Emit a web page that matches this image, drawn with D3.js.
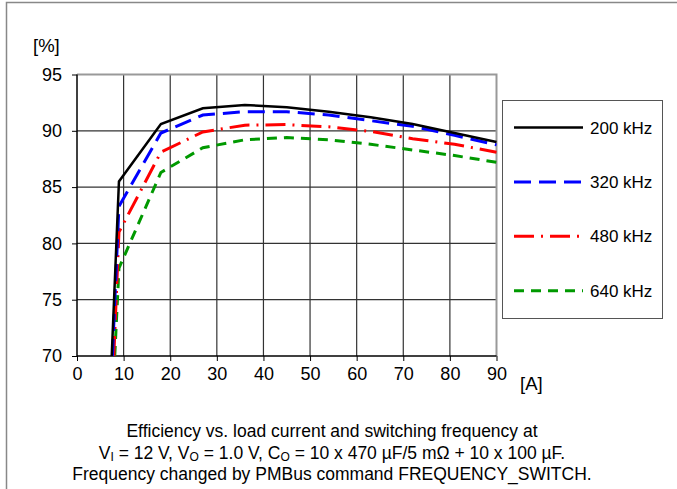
<!DOCTYPE html>
<html>
<head>
<meta charset="utf-8">
<script src="https://cdn.jsdelivr.net/npm/d3@7"></script>
<style>
  body { margin: 0; background: #fff; }
  svg text { font-family: "Liberation Sans", Arial, sans-serif; fill: #000; }
</style>
</head>
<body>
<div id="chart"></div>
<script>
// load current [A] per series (first point is where the curve leaves the 70 % floor)
var current200 = [7.45, 9, 18, 27, 36, 45, 54, 63, 72, 81, 90];
var current320 = [7.6, 9, 18, 27, 36, 45, 54, 63, 72, 81, 90];
var current480 = [7.9, 9, 18, 27, 36, 45, 54, 63, 72, 81, 90];
var current640 = [8.1, 9, 18, 27, 36, 45, 54, 63, 72, 81, 90];

// efficiency [%]
var eff200 = [70, 85.5, 90.6, 92.0, 92.3, 92.1, 91.7, 91.2, 90.6, 89.8, 89.0];
var eff320 = [70, 83.3, 89.8, 91.4, 91.7, 91.7, 91.4, 90.9, 90.4, 89.6, 88.75];
var eff480 = [70, 81.0, 88.1, 89.9, 90.5, 90.55, 90.35, 89.95, 89.3, 88.8, 88.1];
var eff640 = [70, 77.8, 86.3, 88.5, 89.2, 89.4, 89.2, 88.8, 88.3, 87.8, 87.2];

var seriesNames = ["200 kHz", "320 kHz", "480 kHz", "640 kHz"];
var xTicks = [0, 10, 20, 30, 40, 50, 60, 70, 80, 90];
var yTicks = [70, 75, 80, 85, 90, 95];
var caption = [
  "Efficiency vs. load current and switching frequency at",
  null,
  "Frequency changed by PMBus command FREQUENCY_SWITCH."
];

function init() {
  var w = 677, h = 489;

  var svg = d3.select("#chart").append("svg")
      .attr("width", w).attr("height", h);

  // outer frame (top + left only)
  svg.append("path")
     .attr("d", "M6.5,489 V2.5 H677")
     .attr("fill", "none")
     .attr("stroke", "#888")
     .attr("stroke-width", 1.5);

  var x = d3.scaleLinear().domain([0, 90]).range([77, 496.5]);
  var y = d3.scaleLinear().domain([70, 95]).range([356, 74.5]);

  // grid
  svg.append("g").selectAll("line")
     .data(xTicks.filter(function(d) { return d > 0 && d < 90; }))
     .enter().append("line")
     .attr("x1", function(d) { return x(d); })
     .attr("x2", function(d) { return x(d); })
     .attr("y1", y(95)).attr("y2", y(70))
     .attr("stroke", "#333").attr("stroke-width", 1.2);

  svg.append("g").selectAll("line")
     .data(yTicks.filter(function(d) { return d > 70 && d < 95; }))
     .enter().append("line")
     .attr("y1", function(d) { return y(d); })
     .attr("y2", function(d) { return y(d); })
     .attr("x1", x(0)).attr("x2", x(90))
     .attr("stroke", "#333").attr("stroke-width", 1.2);

  // top / right border of plot area
  svg.append("path")
     .attr("d", "M" + x(0) + "," + y(95) + " H" + x(90) + " V" + y(70))
     .attr("fill", "none").attr("stroke", "#999").attr("stroke-width", 2);

  // axes
  var xAxis = d3.axisBottom(x).tickValues(xTicks).tickSize(5).tickPadding(6);
  var yAxis = d3.axisLeft(y).tickValues(yTicks).tickSize(5).tickPadding(10);

  var gx = svg.append("g")
     .attr("transform", "translate(0," + y(70) + ")")
     .call(xAxis);
  var gy = svg.append("g")
     .attr("transform", "translate(" + x(0) + ",0)")
     .call(yAxis);

  [gx, gy].forEach(function(g) {
    g.selectAll("path").attr("stroke", "#000").attr("stroke-width", 1.5);
    g.selectAll("line").attr("stroke", "#000");
    g.selectAll("text").attr("font-size", 18)
     .style("font-family", "'Liberation Sans', Arial, sans-serif");
  });
  gy.select(".domain").attr("d", "M0," + y(95) + "V" + y(70));
  gx.select(".domain").attr("d", "M" + x(0) + ",0H" + x(90));

  svg.append("text").attr("x", 33).attr("y", 52)
     .attr("font-size", 18.5).text("[%]");
  svg.append("text").attr("x", 520).attr("y", 390)
     .attr("font-size", 18.5).text("[A]");

  // series
  var series = [
    { name: seriesNames[0], xs: current200, ys: eff200, color: "#000000", dash: null, width: 2.5 },
    { name: seriesNames[1], xs: current320, ys: eff320, color: "#0000ff", dash: "17,8", width: 3 },
    { name: seriesNames[2], xs: current480, ys: eff480, color: "#ff0000", dash: "20,7,2,7", width: 3 },
    { name: seriesNames[3], xs: current640, ys: eff640, color: "#009900", dash: "10,7", width: 3 }
  ];

  var line = d3.line()
      .x(function(d) { return x(d[0]); })
      .y(function(d) { return y(d[1]); });

  svg.append("g").selectAll("path")
     .data(series.slice().reverse())
     .enter().append("path")
     .attr("d", function(s) { return line(d3.zip(s.xs, s.ys)); })
     .attr("fill", "none")
     .attr("stroke", function(s) { return s.color; })
     .attr("stroke-width", function(s) { return s.width; })
     .attr("stroke-dasharray", function(s) { return s.dash; });

  // legend
  var legend = svg.append("g");
  legend.append("rect")
     .attr("x", 502.5).attr("y", 100.5)
     .attr("width", 160).attr("height", 218)
     .attr("fill", "#fff").attr("stroke", "#555").attr("stroke-width", 1);

  var items = legend.selectAll("g.item")
     .data(series).enter().append("g")
     .attr("transform", function(d, i) { return "translate(0," + (127.5 + i * 54.4) + ")"; });
  items.append("line")
     .attr("x1", 514).attr("x2", 583)
     .attr("stroke", function(s) { return s.color; })
     .attr("stroke-width", function(s) { return s.width; })
     .attr("stroke-dasharray", function(s) { return s.dash; });
  items.append("text")
     .attr("x", 590).attr("y", 6)
     .attr("font-size", 17)
     .text(function(s) { return s.name; });

  // caption
  var cap = svg.append("g").attr("font-size", 17.5).attr("text-anchor", "middle");
  cap.append("text").attr("x", 332).attr("y", 437).text(caption[0]);
  var t2 = cap.append("text").attr("x", 332).attr("y", 459);
  t2.append("tspan").text("V");
  t2.append("tspan").attr("font-size", 12).attr("dy", 2).text("I");
  t2.append("tspan").attr("dy", -2).text(" = 12 V, V");
  t2.append("tspan").attr("font-size", 12).attr("dy", 2).text("O");
  t2.append("tspan").attr("dy", -2).text(" = 1.0 V, C");
  t2.append("tspan").attr("font-size", 12).attr("dy", 2).text("O");
  t2.append("tspan").attr("dy", -2).text(" = 10 x 470 \u00b5F/5 m\u03a9 + 10 x 100 \u00b5F.");
  cap.append("text").attr("x", 332).attr("y", 480).text(caption[2]);
}

window.onload = init;
</script>
</body>
</html>
